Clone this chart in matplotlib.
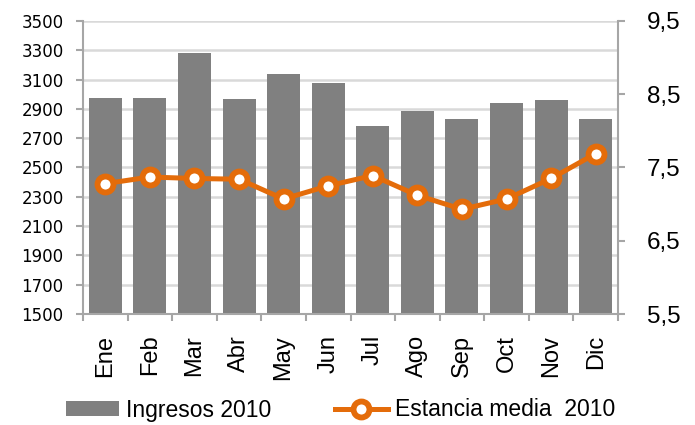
import matplotlib
matplotlib.use("Agg")
import matplotlib.pyplot as plt
from matplotlib.ticker import FixedLocator, FuncFormatter

months = ["Ene", "Feb", "Mar", "Abr", "May", "Jun", "Jul", "Ago", "Sep", "Oct", "Nov", "Dic"]
ingresos = [2975, 2975, 3280, 2970, 3140, 3080, 2785, 2886, 2831, 2940, 2961, 2831]
estancia = [7.28, 7.37, 7.35, 7.34, 7.07, 7.25, 7.39, 7.12, 6.93, 7.07, 7.35, 7.69]
left_ticks = [1500, 1700, 1900, 2100, 2300, 2500, 2700, 2900, 3100, 3300, 3500]
right_ticks = [5.5, 6.5, 7.5, 8.5, 9.5]

SANS = ["Liberation Sans", "DejaVu Sans"]
BAR = "#808080"
ORANGE = "#E46C0A"
SPINE = "#A6A6A6"

fig = plt.figure(figsize=(6.95, 4.25), dpi=100)
ax = fig.add_axes([83/695, 1-314/425, (618-83)/695, (314-21)/425])
x = list(range(len(months)))
ax.bar(x, ingresos, width=0.74, color=BAR, zorder=2, label="Ingresos 2010")
ax.set_xlim(-0.5, len(months)-0.5)
ax.set_ylim(1500, 3500)
ax.yaxis.set_major_locator(FixedLocator(left_ticks))
ax.grid(axis="y", color="#D9D9D9", linewidth=1.8, zorder=0)
ax.set_axisbelow(True)
for s in ["top", "right"]:
    ax.spines[s].set_visible(False)
for s in ["left", "bottom"]:
    ax.spines[s].set_color(SPINE)
    ax.spines[s].set_linewidth(1.5)
ax.set_xticks(x)
ax.set_xticklabels(months, rotation=90, fontsize=17, family=SANS)
ax.tick_params(axis="x", length=0, pad=15)
ax.set_xticks([i - 0.5 for i in range(len(months) + 1)], minor=True)
ax.tick_params(axis="x", which="minor", length=5, color=SPINE, width=1.5)
ax.tick_params(axis="y", length=5, color=SPINE, width=1.5, labelsize=12, pad=9)

ax2 = ax.twinx()
ax2.plot(x, estancia, color=ORANGE, linewidth=3.6, marker="o", markersize=11.5,
         markerfacecolor="white", markeredgecolor=ORANGE, markeredgewidth=4.2,
         zorder=3, label="Estancia media  2010")
ax2.set_ylim(5.5, 9.5)
ax2.yaxis.set_major_locator(FixedLocator(right_ticks))
ax2.yaxis.set_major_formatter(FuncFormatter(lambda v, p: f"{v:.1f}".replace(".", ",")))
for s in ["top", "left", "bottom"]:
    ax2.spines[s].set_visible(False)
ax2.spines["right"].set_color(SPINE)
ax2.spines["right"].set_linewidth(1.5)
ax2.tick_params(axis="y", length=5, color=SPINE, width=1.5, labelsize=17.5, pad=16)
for lbl in ax2.get_yticklabels():
    lbl.set_family(SANS)

h1, l1 = ax.get_legend_handles_labels()
h2, l2 = ax2.get_legend_handles_labels()
fig.legend(h1 + h2, l1 + l2, loc="center", bbox_to_anchor=(0.49, 1-410/425), ncol=2,
           frameon=False, prop={"family": SANS, "size": 16.5},
           handlelength=2.3, handleheight=0.6, columnspacing=2.8, handletextpad=0.3)

fig.savefig("out.png", dpi=100)
